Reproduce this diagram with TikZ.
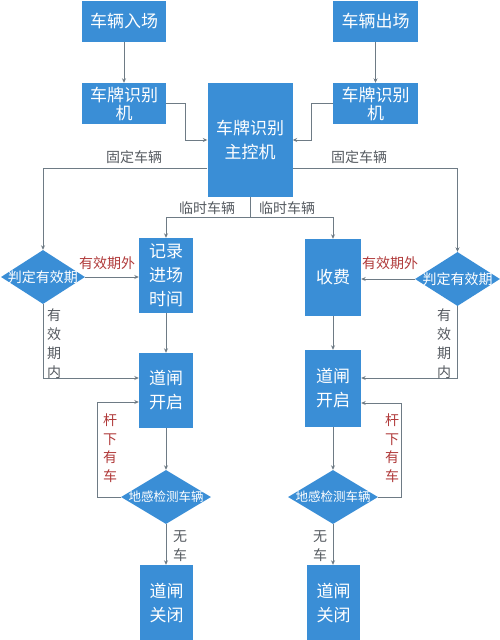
\documentclass[tikz,border=0pt]{standalone}
\usepackage{fontspec}
\setmainfont{Noto Sans CJK SC}
\usetikzlibrary{shapes.geometric,arrows.meta}
\definecolor{boxblue}{RGB}{58,142,214}
\definecolor{linegray}{RGB}{110,123,133}
\definecolor{labgray}{RGB}{85,90,96}
\definecolor{labred}{RGB}{176,58,58}
\begin{document}
\begin{tikzpicture}[x = 1pt, y = -1pt, >={Stealth[length=4.5pt,width=4pt]}]
		\tikzstyle{every node} = [inner sep = 0]
		\tikzstyle{box} = [rectangle, fill = boxblue, text = white, align = center, font = \fontsize{17}{24}\selectfont]
		\tikzstyle{decision} = [diamond, fill = boxblue, minimum width = 84pt, minimum height = 54pt]
		\tikzstyle{dtext} = [text = white, font = \fontsize{14}{16}\selectfont]
		\tikzstyle{arr} = [draw = linegray, line width = .7pt, ->]
		\tikzstyle{lab} = [text = labgray, align = center, font = \fontsize{14}{19}\selectfont]
		\tikzstyle{rlab} = [text = labred, align = center, font = \fontsize{14}{18.5}\selectfont]
		\useasboundingbox (0,0) rectangle (500,640);

		% entry and exit
		\node [box, minimum width = 84pt, minimum height = 41pt] (in) at (124,21) {车辆入场};
		\node [box, minimum width = 84pt, minimum height = 41pt] (recL) at (124,103.5) {车牌识别\\[-6pt]机};
		\node [box, minimum width = 85pt, minimum height = 41pt] (out) at (375.5,21) {车辆出场};
		\node [box, minimum width = 85pt, minimum height = 41pt] (recR) at (375.5,103.5) {车牌识别\\[-6pt]机};
		\node [box, minimum width = 85pt, minimum height = 114pt] (main) at (250,140) {车牌识别\\主控机};

		% left branch
		\node [box, minimum width = 54pt, minimum height = 75pt] (rec) at (166,275.5) {记录\\进场\\时间};
		\node [decision, label = {[dtext]center:判定有效期}] (judL) at (43,277) {};
		\node [box, minimum width = 54pt, minimum height = 75pt] (openL) at (166,390.5) {道闸\\开启};
		\node [decision, minimum width = 90pt, label = {[dtext, font = \fontsize{12.5}{14}\selectfont]center:地感检测车辆}] (senseL) at (166,497) {};
		\node [box, minimum width = 53pt, minimum height = 75pt] (closeL) at (166.5,602.5) {道闸\\关闭};

		% right branch
		\node [box, minimum width = 56pt, minimum height = 77pt] (fee) at (333,277.5) {收费};
		\node [decision, minimum width = 85pt, label = {[dtext]center:判定有效期}] (judR) at (457.5,279) {};
		\node [box, minimum width = 56pt, minimum height = 77pt] (openR) at (333,388.5) {道闸\\开启};
		\node [decision, minimum width = 90pt, label = {[dtext, font = \fontsize{12.5}{14}\selectfont]center:地感检测车辆}] (senseR) at (333,497) {};
		\node [box, minimum width = 53pt, minimum height = 75pt] (closeR) at (333.5,602.5) {道闸\\关闭};

		\draw [arr] (in) -- (recL); %in to recL
		\draw [arr] (out) -- (recR); %out to recR
		\draw [arr] (recL.east) -- ++(19,0) |- (main.west); %recL to main
		\draw [arr] (recR.west) -- ++(-21,0) |- (main.east); %recR to main

		\draw [arr] ([yshift = -28pt]main.west) -| (judL.north); %fixed, left
		\draw [arr] ([yshift = -28pt]main.east) -| (judR.north); %fixed, right
		\node [lab] (fixL) at (134,157) {固定车辆};
		\node [lab] (fixR) at (359,157) {固定车辆};

		\draw [draw = linegray, line width = .7pt] (main.south) -- ++(0,20) coordinate (split);
		\draw [arr] (split) -| (rec.north); %temp, left
		\draw [arr] (split) -| (fee.north); %temp, right
		\node [lab] (tmpL) at (207,208) {临时车辆};
		\node [lab] (tmpR) at (287,208) {临时车辆};

		\draw [arr] (judL.east) -- (judL.east -| rec.west);
		\node [rlab] (outL) at (107,263) {有效期外};
		\draw [arr] (judL.south) |- ([yshift = 12.5pt]openL.west);
		\node [lab] (inL) at (54,344) {有\\效\\期\\内};
		\draw [arr] (rec) -- (openL);
		\draw [arr] (openL) -- (senseL);
		\draw [arr] (senseL.west) -- ++(-23,0) |- ([yshift = -11.5pt]openL.west);
		\node [rlab] (barL) at (110,448) {杆\\下\\有\\车};
		\draw [arr] (senseL) -- (closeL.north -| senseL);
		\node [lab] (noL) at (180,546) {无\\车};

		\draw [arr] (judR.west) -- (judR.west -| fee.east);
		\node [rlab] (outR) at (390,263) {有效期外};
		\draw [arr] (judR.south) |- ([yshift = 10.5pt]openR.east);
		\node [lab] (inR) at (444,344) {有\\效\\期\\内};
		\draw [arr] (fee) -- (openR);
		\draw [arr] (openR) -- (senseR);
		\draw [arr] (senseR.east) -- ++(23,0) |- ([yshift = -14.5pt]openR.east);
		\node [rlab] (barR) at (392,448) {杆\\下\\有\\车};
		\draw [arr] (senseR) -- (closeR.north -| senseR);
		\node [lab] (noR) at (320,546) {无\\车};
\end{tikzpicture}
\end{document}
